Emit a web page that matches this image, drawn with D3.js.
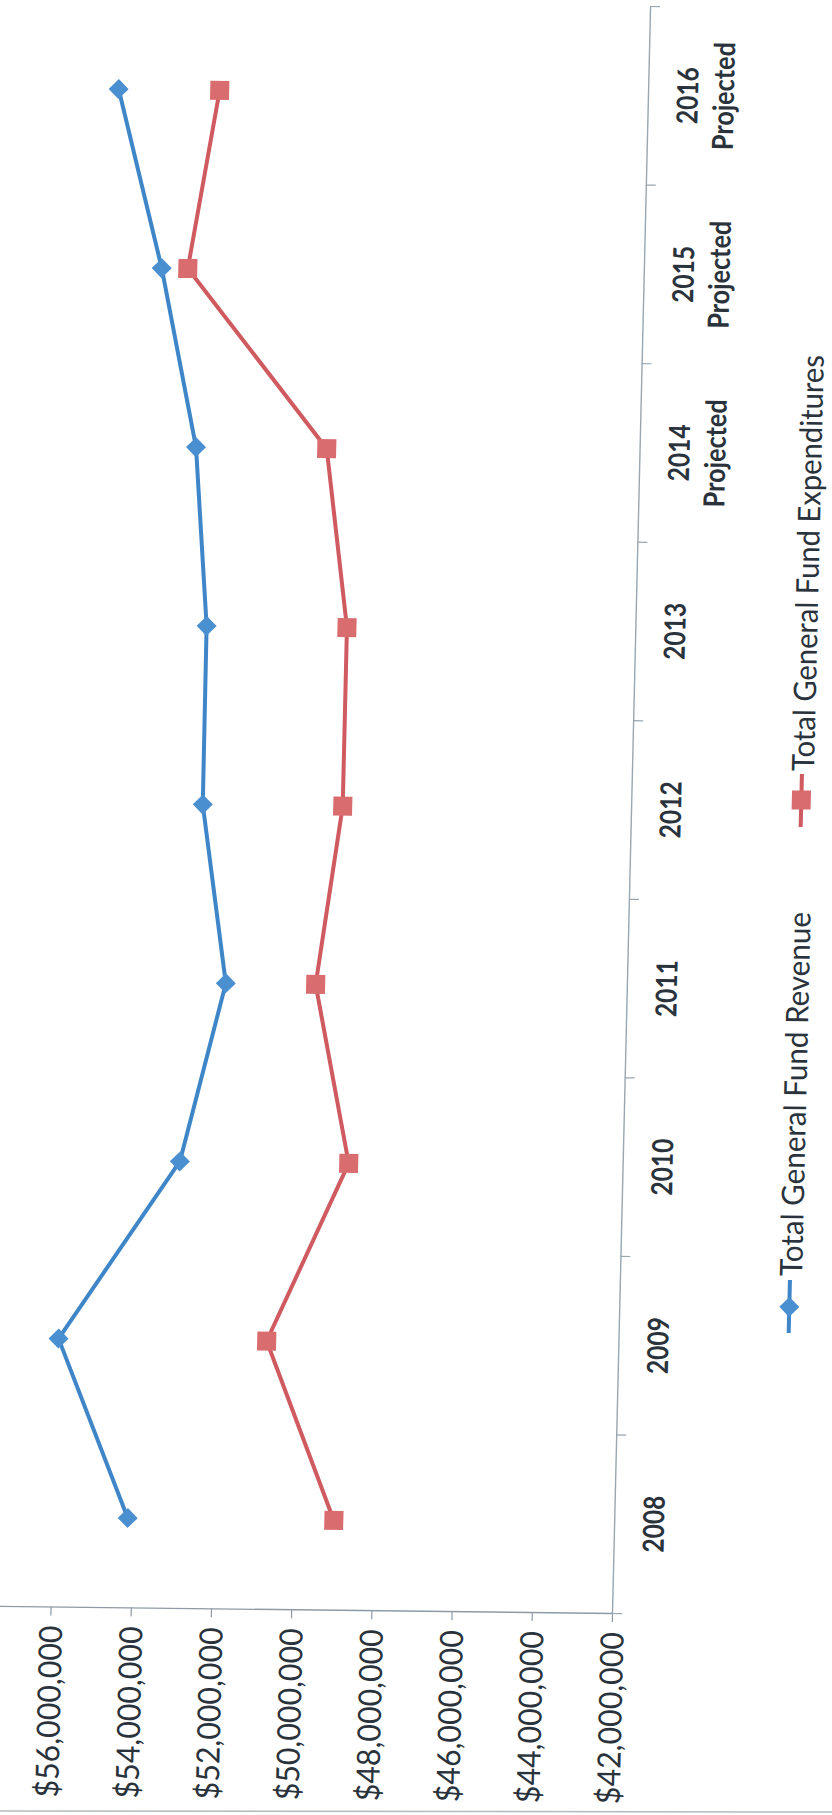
<!DOCTYPE html>
<html>
<head>
<meta charset="utf-8">
<script src="https://cdn.jsdelivr.net/npm/d3@7"></script>
<style>
  html, body { margin: 0; padding: 0; background: #ffffff; }
  svg { display: block; }
  text { font-family: Lato, "Open Sans", sans-serif; }
</style>
</head>
<body>
<svg id="chart" width="832" height="1815"></svg>
<script>
// General fund revenue vs. expenditures, fiscal years 2008-2016
const categories = ["2008", "2009", "2010", "2011", "2012", "2013",
                    "2014 Projected", "2015 Projected", "2016 Projected"];
const revenue = [54130000, 55960000, 53040000, 52000000, 52680000,
                 52690000, 53060000, 54020000, 55200000];
const expenditures = [48990000, 50770000, 48830000, 49760000, 49190000,
                      49190000, 49800000, 53370000, 52680000];
const valueTicks = [42000000, 44000000, 46000000, 48000000,
                    50000000, 52000000, 54000000, 56000000];
const seriesNames = ["Total General Fund Revenue", "Total General Fund Expenditures"];

// Layout (the page is printed turned a quarter turn: categories run bottom-to-top)
const corner = { x: 612, y: 1613 };   // where the two axes meet
const plotTop = 6;
const pxPerMillion = 40.1;
const blue = "#3f86c8", blueFill = "#4a8fd0";
const red = "#cf5a60", redFill = "#d96c6e";
const inkDark = "#2a333c";

const svg = d3.select("#chart");
svg.append("rect").attr("width", 832).attr("height", 1815).attr("fill", "#fff");

// Slight skew of the printed sheet
const root = svg.append("g")
  .attr("transform", `translate(${corner.x},${corner.y}) matrix(1,0.0117,-0.0237,1,0,0) translate(${-corner.x},${-corner.y})`);

// Value scale runs right-to-left, category scale bottom-to-top
const valueScale = d3.scaleLinear()
  .domain([42000000, 58000000])
  .range([corner.x, corner.x - 16 * pxPerMillion]);
const band = d3.scaleBand().domain(categories).range([corner.y, plotTop]);
const center = c => band(c) + band.bandwidth() / 2;
const boundary = d3.scaleLinear().domain([0, categories.length]).range([corner.y, plotTop]);

// Value axis (along the bottom)
const valueAxis = root.append("g")
  .attr("transform", `translate(0,${corner.y})`)
  .call(d3.axisBottom(valueScale)
    .tickValues(valueTicks)
    .tickSize(9)
    .tickSizeOuter(0)
    .tickFormat(d3.format("$,.0f")));
valueAxis.select(".domain").attr("stroke", "#8f9aa4").attr("stroke-width", 1.4);
valueAxis.selectAll(".tick line").attr("stroke", "#8f9aa4").attr("stroke-width", 1.2);
valueAxis.selectAll(".tick text")
  .attr("x", 0).attr("y", 0)
  .attr("dy", "0.36em")
  .attr("transform", "translate(0,19) rotate(-90)")
  .attr("text-anchor", "end")
  .attr("font-size", 32)
  .attr("fill", inkDark)
  .attr("textLength", 172)
  .attr("lengthAdjust", "spacingAndGlyphs");

// Category axis (along the right side), ticks between categories
const catAxis = root.append("g")
  .attr("transform", `translate(${corner.x},0)`)
  .call(d3.axisRight(boundary)
    .tickValues(d3.range(categories.length + 1))
    .tickSize(10)
    .tickSizeOuter(0)
    .tickFormat(""));
catAxis.select(".domain").attr("stroke", "#9aa6b0").attr("stroke-width", 1.4);
catAxis.selectAll(".tick line").attr("stroke", "#9aa6b0").attr("stroke-width", 1.2);

// Category labels, wrapped onto two lines where needed
const catLabels = root.append("g").selectAll("g")
  .data(categories)
  .join("g")
  .attr("transform", c => `translate(${corner.x},${center(c)}) rotate(-90)`);
catLabels.each(function (c) {
  const lines = c.split(" ");
  const g = d3.select(this);
  lines.forEach((line, i) => {
    g.append("text")
      .attr("x", 0)
      .attr("y", 50 + i * 36)
      .attr("text-anchor", "middle")
      .attr("font-size", 29)
      .attr("font-weight", 700)
      .attr("fill", inkDark)
      .attr("textLength", line === "Projected" ? 108 : 57)
      .attr("lengthAdjust", "spacingAndGlyphs")
      .text(line);
  });
});

// Series
const series = [
  { name: seriesNames[0], values: revenue, stroke: blue, fill: blueFill, shape: "diamond" },
  { name: seriesNames[1], values: expenditures, stroke: red, fill: redFill, shape: "square" }
];

const line = d3.line()
  .x(d => valueScale(d.value))
  .y(d => center(d.cat));

const diamond = d3.symbol(d3.symbolSquare, 200);
const square = d3.symbol(d3.symbolSquare, 361);

function drawMarker(sel, s) {
  if (s.shape === "diamond") {
    sel.append("path")
      .attr("d", diamond())
      .attr("transform", d => `translate(${d.x},${d.y}) rotate(45)`)
      .attr("fill", s.fill);
  } else {
    sel.append("path")
      .attr("d", square())
      .attr("transform", d => `translate(${d.x},${d.y})`)
      .attr("fill", s.fill);
  }
}

series.forEach(s => {
  const pts = categories.map((c, i) => ({ cat: c, value: s.values[i] }));
  const g = root.append("g");
  g.append("path")
    .datum(pts)
    .attr("d", line)
    .attr("fill", "none")
    .attr("stroke", s.stroke)
    .attr("stroke-width", 4)
    .attr("stroke-linejoin", "round");
  const m = g.selectAll("g.pt")
    .data(pts.map(p => ({ x: valueScale(p.value), y: center(p.cat) })))
    .join("g").attr("class", "pt");
  drawMarker(m, s);
});

// Legend (reads bottom-to-top, to the right of the category labels)
const legendX = 782;
const legendItems = [
  { s: series[0], lineFrom: 1331, lineTo: 1278, mark: 1305, textAt: 1274, len: 364 },
  { s: series[1], lineFrom: 825, lineTo: 772, mark: 798, textAt: 769, len: 416 }
];
legendItems.forEach(it => {
  const g = root.append("g");
  g.append("line")
    .attr("x1", legendX).attr("x2", legendX)
    .attr("y1", it.lineFrom).attr("y2", it.lineTo)
    .attr("stroke", it.s.stroke).attr("stroke-width", 4);
  drawMarker(g.selectAll("g").data([{ x: legendX, y: it.mark }]).join("g"), it.s);
  g.append("text")
    .attr("transform", `translate(${legendX},${it.textAt}) rotate(-90)`)
    .attr("x", 0).attr("y", 0)
    .attr("dy", 12)
    .attr("text-anchor", "start")
    .attr("font-size", 31)
    .attr("fill", inkDark)
    .attr("textLength", it.len)
    .attr("lengthAdjust", "spacingAndGlyphs")
    .text(it.s.name);
});

// Chart-area edge along the bottom of the sheet
svg.append("line")
  .attr("x1", 0).attr("x2", 832)
  .attr("y1", 1811).attr("y2", 1812)
  .attr("stroke", "#b4b9be").attr("stroke-width", 1.5);
</script>
</body>
</html>
